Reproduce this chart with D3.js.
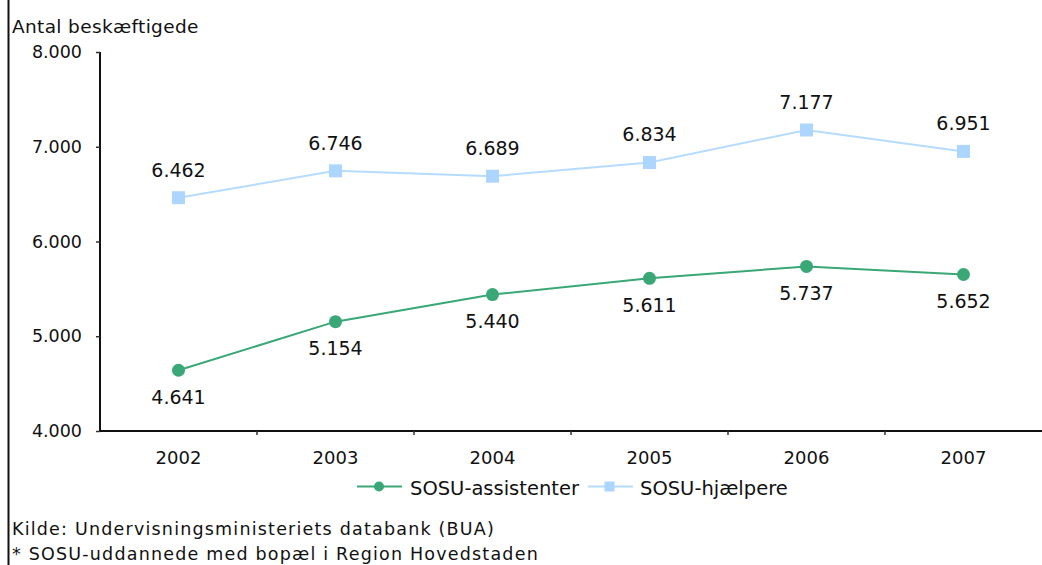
<!DOCTYPE html>
<html>
<head>
<meta charset="utf-8">
<script src="https://cdn.jsdelivr.net/npm/d3@7"></script>
<style>
  html, body { margin: 0; padding: 0; background: #fff; }
  svg { display: block; font-family: "DejaVu Sans", Verdana, sans-serif; }
</style>
</head>
<body>
<svg id="chart" width="1042" height="565"></svg>
<script>
// Employment of SOSU graduates, 2002–2007
const years = ["2002", "2003", "2004", "2005", "2006", "2007"];
const assistenter = [4641, 5154, 5440, 5611, 5737, 5652];
const hjaelpere = [6462, 6746, 6689, 6834, 7177, 6951];
const yTicks = [4000, 5000, 6000, 7000, 8000];
const seriesNames = ["SOSU-assistenter", "SOSU-hjælpere"];

const green = "#3aa776";
const blueLine = "#b5dcff";
const blueMark = "#acd6ff";
const ink = "#111";
const fontFam = "DejaVu Sans, Verdana, sans-serif";

const fmt = v => d3.format(",")(v).replace(/,/g, ".");

const svg = d3.select("#chart");
const plotLeft = 100, plotRight = 1042, plotTop = 52, plotBottom = 431;

const x = d3.scaleBand().domain(years).range([plotLeft, plotRight]);
const y = d3.scaleLinear().domain([4000, 8000]).range([plotBottom, plotTop]);
const cx = d => x(d) + x.bandwidth() / 2;

// frame line on the left edge
svg.append("line")
  .attr("x1", 8.5).attr("x2", 8.5).attr("y1", 0).attr("y2", 565)
  .attr("stroke", ink).attr("stroke-width", 2);

// y axis
const yAxis = svg.append("g")
  .attr("transform", `translate(${plotLeft},0)`)
  .call(d3.axisLeft(y).tickValues(yTicks).tickFormat(fmt).tickSize(4).tickPadding(14));
yAxis.select(".domain").attr("stroke", ink).attr("stroke-width", 2).attr("d", `M0,${plotTop}V${plotBottom}`);
yAxis.selectAll(".tick line").attr("stroke", "#333").attr("stroke-width", 1.5);
yAxis.selectAll(".tick text").attr("font-size", 17.5).attr("fill", ink).attr("font-family", fontFam);

// x axis with ticks at category boundaries
const xAxis = svg.append("g")
  .attr("transform", `translate(0,${plotBottom})`)
  .call(d3.axisBottom(x).tickSize(0).tickPadding(20));
xAxis.select(".domain").attr("stroke", ink).attr("stroke-width", 2).attr("d", `M${plotLeft},0H${plotRight}`);
xAxis.selectAll(".tick text").attr("font-size", 18).attr("fill", ink).attr("font-family", fontFam);
xAxis.selectAll(".boundary")
  .data(years.slice(1))
  .join("line")
  .attr("class", "boundary")
  .attr("x1", d => x(d)).attr("x2", d => x(d))
  .attr("y1", 0).attr("y2", 4)
  .attr("stroke", "#333").attr("stroke-width", 1.5);

// axis title
svg.append("text").attr("x", 12).attr("y", 33)
  .attr("font-size", 18.5).attr("letter-spacing", 0.35).attr("fill", ink).text("Antal beskæftigede");

const line = d3.line().x((d, i) => cx(years[i])).y(d => y(d));

// SOSU-hjælpere series
svg.append("path").datum(hjaelpere)
  .attr("d", line).attr("fill", "none").attr("stroke", blueLine).attr("stroke-width", 2);
svg.selectAll(".sq").data(hjaelpere).join("rect")
  .attr("class", "sq")
  .attr("x", (d, i) => cx(years[i]) - 6.5).attr("y", d => y(d) - 6.5)
  .attr("width", 13).attr("height", 13).attr("fill", blueMark);
svg.selectAll(".lblH").data(hjaelpere).join("text")
  .attr("class", "lblH")
  .attr("x", (d, i) => cx(years[i])).attr("y", d => y(d) - 21)
  .attr("text-anchor", "middle").attr("font-size", 19).attr("fill", ink)
  .text(fmt);

// SOSU-assistenter series
svg.append("path").datum(assistenter)
  .attr("d", line).attr("fill", "none").attr("stroke", green).attr("stroke-width", 2);
svg.selectAll(".dot").data(assistenter).join("circle")
  .attr("class", "dot")
  .attr("cx", (d, i) => cx(years[i])).attr("cy", d => y(d))
  .attr("r", 6.5).attr("fill", green);
svg.selectAll(".lblA").data(assistenter).join("text")
  .attr("class", "lblA")
  .attr("x", (d, i) => cx(years[i])).attr("y", d => y(d) + 33.5)
  .attr("text-anchor", "middle").attr("font-size", 19).attr("fill", ink)
  .text(fmt);

// legend
const legend = svg.append("g").attr("transform", "translate(0,486.5)");
const l1 = legend.append("g").attr("transform", "translate(357,0)");
l1.append("line").attr("x1", 0).attr("x2", 45).attr("stroke", green).attr("stroke-width", 2);
l1.append("circle").attr("cx", 22).attr("r", 5).attr("fill", green);
l1.append("text").attr("x", 53).attr("y", 8.5).attr("font-size", 19.5).attr("fill", ink).text(seriesNames[0]);
const l2 = legend.append("g").attr("transform", "translate(588,0)");
l2.append("line").attr("x1", 0).attr("x2", 45).attr("stroke", blueLine).attr("stroke-width", 2);
l2.append("rect").attr("x", 16.5).attr("y", -5).attr("width", 10).attr("height", 10).attr("fill", blueMark);
l2.append("text").attr("x", 52).attr("y", 8.5).attr("font-size", 19.5).attr("fill", ink).text(seriesNames[1]);

// footnotes
svg.append("text").attr("x", 12).attr("y", 535).attr("font-size", 17.5)
  .attr("letter-spacing", 1.2).attr("fill", ink)
  .text("Kilde: Undervisningsministeriets databank (BUA)");
svg.append("text").attr("x", 12).attr("y", 560).attr("font-size", 17.5)
  .attr("letter-spacing", 1.2).attr("fill", ink)
  .text("* SOSU-uddannede med bopæl i Region Hovedstaden");
</script>
</body>
</html>
